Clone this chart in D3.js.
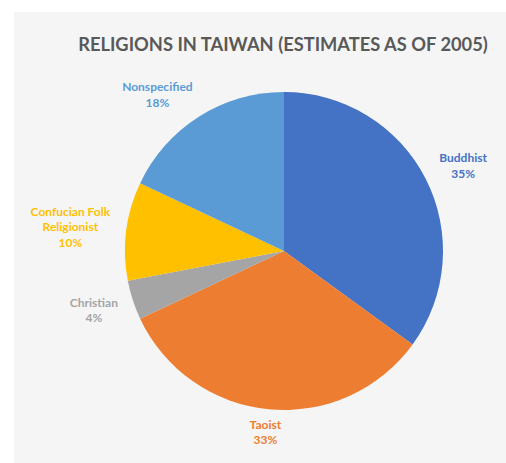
<!DOCTYPE html>
<html>
<head>
<meta charset="utf-8">
<script src="https://cdn.jsdelivr.net/npm/d3@7"></script>
<style>
html,body{margin:0;padding:0;background:#ffffff;}
svg{display:block;}
</style>
</head>
<body>
<svg id="chart" width="506" height="463"></svg>
<script>
const categories = ["Buddhist", "Taoist", "Christian", "Confucian Folk Religionist", "Nonspecified"];
const values = [35, 33, 4, 10, 18];
const colors = ["#4472C4", "#ED7D31", "#A5A5A5", "#FFC000", "#5B9BD5"];
const labelLines = [["Buddhist"], ["Taoist"], ["Christian"], ["Confucian Folk", "Religionist"], ["Nonspecified"]];
const title = "RELIGIONS IN TAIWAN (ESTIMATES AS OF 2005)";

const W = 506, H = 463;
const svg = d3.select("#chart");

// panel background
svg.append("rect").attr("x", 14).attr("y", 12).attr("width", W - 14).attr("height", H - 12).attr("fill", "#f5f5f5");

// title
svg.append("text")
  .attr("x", 283).attr("y", 51)
  .attr("text-anchor", "middle")
  .attr("font-family", "Lato, 'Open Sans', sans-serif")
  .attr("font-weight", "bold")
  .attr("font-size", 18.3)
  .attr("fill", "#595959")
  .text(title);

const cx = 284, cy = 251, r = 159;
const data = categories.map((c, i) => ({cat: c, value: values[i], color: colors[i], lines: labelLines[i]}));
const total = d3.sum(values);
const pie = d3.pie().value(d => d.value).sort(null);
const arc = d3.arc().innerRadius(0).outerRadius(r);
const arcs = pie(data);

const g = svg.append("g").attr("transform", `translate(${cx},${cy})`);
g.selectAll("path.slice").data(arcs).enter().append("path")
  .attr("class", "slice")
  .attr("d", arc)
  .attr("fill", d => d.data.color);

// labels placed outside, Excel-like
const fs = 12, lh = 15.5;
arcs.forEach(a => {
  const ang = (a.startAngle + a.endAngle) / 2;
  const s = Math.sin(ang), c = Math.cos(ang);
  const gap = 6 + 10 * Math.abs(s);
  const lines = a.data.lines.concat([Math.round(a.data.value / total * 100) + "%"]);
  const t = g.append("text")
    .attr("text-anchor", "middle")
    .attr("font-family", "Lato, 'Open Sans', sans-serif")
    .attr("font-weight", "bold")
    .attr("font-size", fs)
    .attr("fill", a.data.color);
  lines.forEach((ln, i) => {
    t.append("tspan").attr("x", 0).attr("dy", i === 0 ? 0 : lh).text(ln);
  });
  const bb = t.node().getBBox();
  const w = bb.width, h = lines.length * lh;
  const px = (r + gap) * s, py = -(r + gap) * c;
  const bx = px + Math.sign(s) * Math.min(1, 2 * Math.abs(s)) * w / 2;
  const by = py - c * h / 2;
  t.attr("transform", `translate(${bx},${by - h / 2 + fs * 0.85 + 2.5})`);
});
</script>
</body>
</html>
